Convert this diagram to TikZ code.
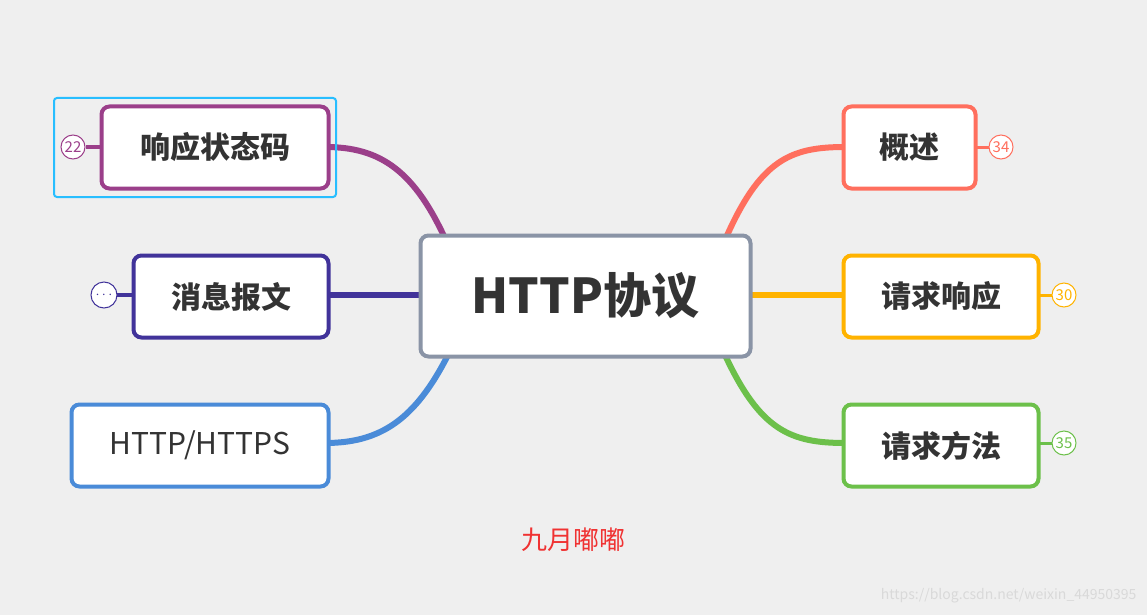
\documentclass[tikz,border=0pt]{standalone}
\usepackage{fontspec}
\setmainfont{Noto Sans CJK SC}
\begin{document}
\begin{tikzpicture}[x=1pt,y=-1pt,
 box/.style={draw,line width=4pt,rounded corners=8pt,fill=white,inner sep=0pt,font=\fontsize{30}{30}\selectfont\bfseries,text=black!80},
 badge/.style={circle,draw,line width=1pt,fill=white,minimum size=24pt,inner sep=0pt,font=\fontsize{15}{15}\selectfont},
 conn/.style={line width=6pt}]
\useasboundingbox[fill={rgb,255:red,239;green,239;blue,239}] (0,0) rectangle (1147,615);
\definecolor{cgray}{RGB}{138,148,166}
\definecolor{cred}{RGB}{255,111,94}
\definecolor{corg}{RGB}{255,179,0}
\definecolor{cgrn}{RGB}{108,192,74}
\definecolor{cpur}{RGB}{155,63,138}
\definecolor{cind}{RGB}{65,51,154}
\definecolor{cblu}{RGB}{74,139,216}
\coordinate (c1) at (445,245);
% connectors
\draw[conn,cred] (725,240) .. controls (760,160) and (790,147) .. (845,147);
\draw[conn,corg] (745,295) -- (845,295);
\draw[conn,cgrn] (725,355) .. controls (760,430) and (790,443) .. (845,443);
\draw[conn,cpur] (448,245) .. controls (415,170) and (380,147) .. (325,147);
\draw[conn,cind] (425,295) -- (325,295);
\draw[conn,cblu] (448,355) .. controls (415,420) and (380,443) .. (325,443);
\draw[cpur,line width=4pt] (86,147) -- (104,147);
\draw[cind,line width=4pt] (117,295) -- (136,295);
\draw[cred,line width=3pt] (975,147) -- (989,147);
\draw[corg,line width=3pt] (1038,295) -- (1052,295);
\draw[cgrn,line width=3pt] (1038,443) -- (1052,443);
% nodes
\node[box,draw=cgray,minimum width=330pt,minimum height=121pt,font=\fontsize{48}{48}\selectfont\bfseries] (center) at (585.5,296) {HTTP协议};
\node[box,draw=cred,minimum width=132pt,minimum height=82pt] (a) at (909.5,147.5) {概述};
\node[box,draw=corg,minimum width=195pt,minimum height=82pt] (b) at (941,296.5) {请求响应};
\node[box,draw=cgrn,minimum width=195pt,minimum height=82pt] (c) at (941,445.5) {请求方法};
\draw[draw={rgb,255:red,40;green,190;blue,255},line width=2pt,rounded corners=3pt] (54,98) rectangle (336,197);
\node[box,draw=cpur,minimum width=227pt,minimum height=82pt] (d) at (215,147.5) {响应状态码};
\node[box,draw=cind,minimum width=195pt,minimum height=82pt] (e) at (231,296.5) {消息报文};
\node[box,draw=cblu,minimum width=257pt,minimum height=82pt,font=\fontsize{30}{30}\selectfont] (f) at (200,445.5) {HTTP/HTTPS};
\node[badge,draw=cpur,text=cpur] (bd) at (73,147) {22};
\node[badge,draw=cind,text=cind,minimum size=26pt] (be) at (104,295) {$\cdots$};
\node[badge,draw=cred,text=cred] (ba) at (1001,147) {34};
\node[badge,draw=corg,text=corg] (bb) at (1064,295) {30};
\node[badge,draw=cgrn,text=cgrn] (bc) at (1064,443) {35};
\node[text={rgb,255:red,240;green,50;blue,50},font=\fontsize{26}{26}\selectfont] (wm) at (573,540) {九月嘟嘟};
\node[text=white!70!gray,font=\fontsize{14}{14}\selectfont,anchor=east] (url) at (1140,596) {https://blog.csdn.net/weixin\_44950395};
\end{tikzpicture}
\end{document}
